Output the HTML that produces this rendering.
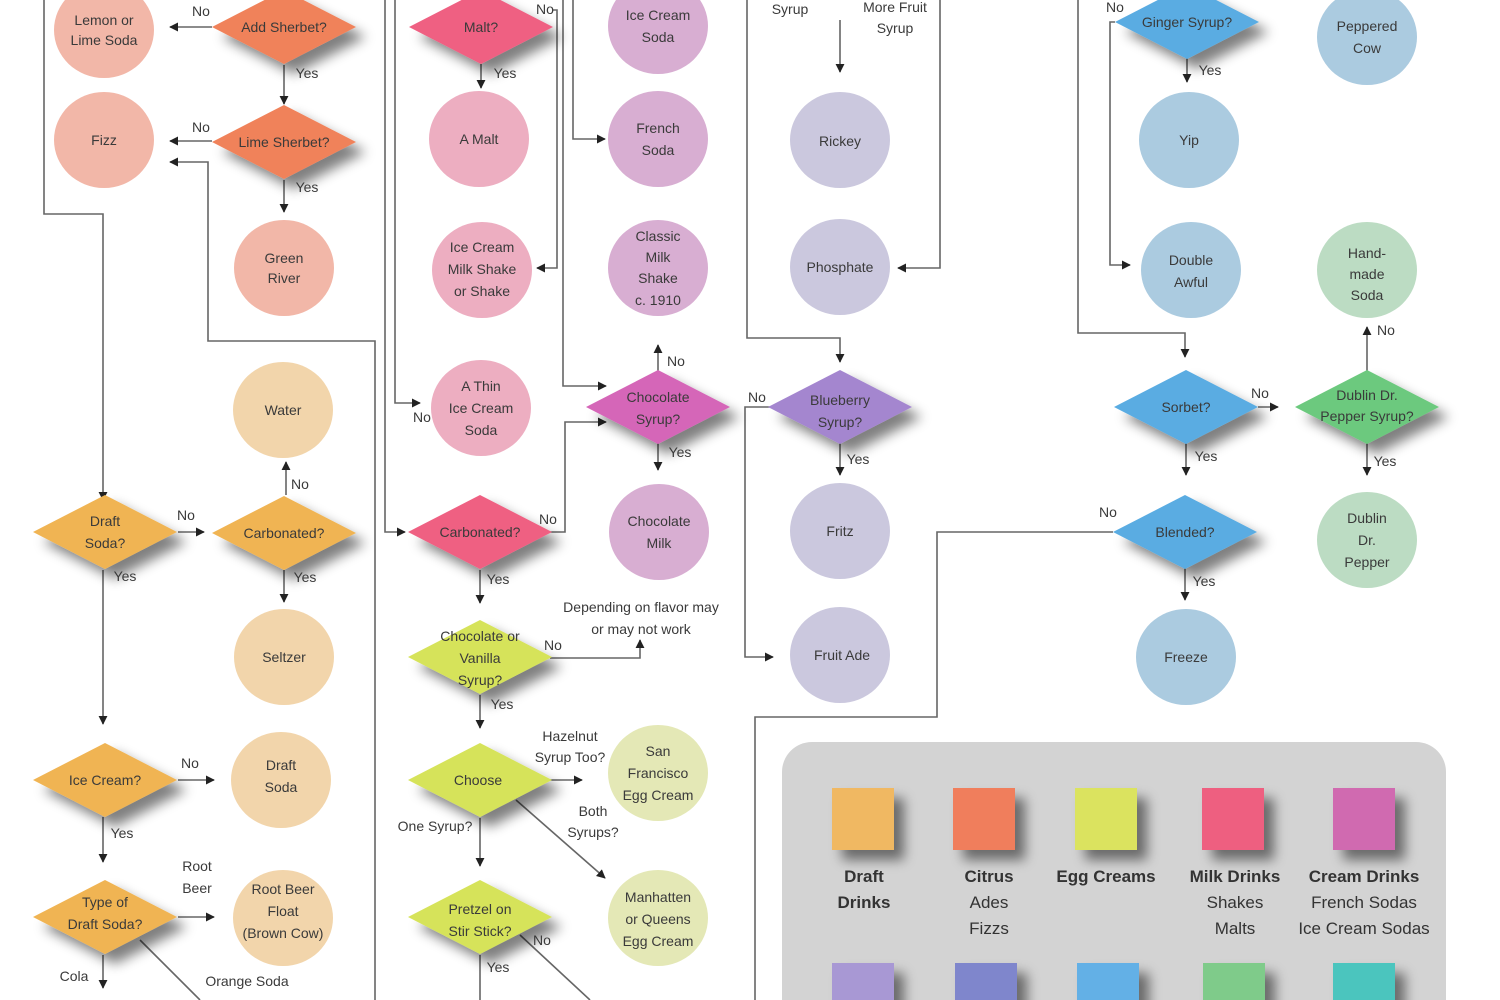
<!DOCTYPE html>
<html><head><meta charset="utf-8"><style>
html,body{margin:0;padding:0;background:#fff;}
svg{display:block;}
text{font-family:"Liberation Sans Narrow","Liberation Sans",sans-serif;font-size:14px;fill:#3a3a3a;text-anchor:middle;}
.l{font-size:13px;}
.g text{font-size:17px;fill:#333;}
</style></head><body>
<svg width="1500" height="1000" viewBox="0 0 1500 1000" xmlns="http://www.w3.org/2000/svg">
<defs>
<filter id="sh" x="-30%" y="-30%" width="170%" height="180%"><feGaussianBlur in="SourceAlpha" stdDeviation="6"/><feOffset dx="10" dy="10"/><feComponentTransfer><feFuncA type="linear" slope="0.5"/></feComponentTransfer><feMerge><feMergeNode/><feMergeNode in="SourceGraphic"/></feMerge></filter>
<marker id="a" viewBox="0 0 10 10" refX="9" refY="5" markerWidth="9" markerHeight="9" orient="auto" markerUnits="userSpaceOnUse"><path d="M0,0 L10,5 L0,10 z" fill="#222"/></marker>
</defs>

<g fill="none" stroke="#666" stroke-width="1.6">
<polyline points="44,0 44,214 103,214 103,500" marker-end="url(#a)"/>
<polyline points="212,27 170,27" marker-end="url(#a)"/>
<polyline points="284,65 284,104" marker-end="url(#a)"/>
<polyline points="212,141 170,141" marker-end="url(#a)"/>
<polyline points="284,180 284,212" marker-end="url(#a)"/>
<polyline points="375,1000 375,341 208,341 208,162 170,162" marker-end="url(#a)"/>
<polyline points="395,0 395,403 420,403" marker-end="url(#a)"/>
<polyline points="385,0 385,532 405,532" marker-end="url(#a)"/>
<polyline points="481,64 481,88" marker-end="url(#a)"/>
<polyline points="553,10 557,10 557,268 537,268" marker-end="url(#a)"/>
<polyline points="573,0 573,139 605,139" marker-end="url(#a)"/>
<polyline points="563,0 563,386 606,386" marker-end="url(#a)"/>
<polyline points="550,532 565,532 565,422 606,422" marker-end="url(#a)"/>
<polyline points="658,375 658,345" marker-end="url(#a)"/>
<polyline points="658,443 658,470" marker-end="url(#a)"/>
<polyline points="286,495 286,462" marker-end="url(#a)"/>
<polyline points="178,532 204,532" marker-end="url(#a)"/>
<polyline points="284,570 284,602" marker-end="url(#a)"/>
<polyline points="103,570 103,724" marker-end="url(#a)"/>
<polyline points="178,780 214,780" marker-end="url(#a)"/>
<polyline points="103,817 103,862" marker-end="url(#a)"/>
<polyline points="178,917 214,917" marker-end="url(#a)"/>
<polyline points="103,955 103,988" marker-end="url(#a)"/>
<polyline points="140,940 200,1000"/>
<polyline points="480,570 480,603" marker-end="url(#a)"/>
<polyline points="550,658 640,658 640,640" marker-end="url(#a)"/>
<polyline points="480,695 480,728" marker-end="url(#a)"/>
<polyline points="550,780 582,780" marker-end="url(#a)"/>
<polyline points="516,800 605,878" marker-end="url(#a)"/>
<polyline points="480,818 480,866" marker-end="url(#a)"/>
<polyline points="480,955 480,1000"/>
<polyline points="520,935 590,1000"/>
<polyline points="747,0 747,338 840,338 840,362" marker-end="url(#a)"/>
<polyline points="770,407 745,407 745,657 773,657" marker-end="url(#a)"/>
<polyline points="840,443 840,475" marker-end="url(#a)"/>
<polyline points="840,20 840,72" marker-end="url(#a)"/>
<polyline points="940,0 940,268 898,268" marker-end="url(#a)"/>
<polyline points="1078,0 1078,333 1185,333 1185,357" marker-end="url(#a)"/>
<polyline points="1115,22 1110,22 1110,265 1130,265" marker-end="url(#a)"/>
<polyline points="1187,58 1187,82" marker-end="url(#a)"/>
<polyline points="1258,407 1278,407" marker-end="url(#a)"/>
<polyline points="1186,443 1186,475" marker-end="url(#a)"/>
<polyline points="1367,372 1367,327" marker-end="url(#a)"/>
<polyline points="1367,443 1367,475" marker-end="url(#a)"/>
<polyline points="1113,532 937,532 937,717 755,717 755,1000"/>
<polyline points="1185,568 1185,600" marker-end="url(#a)"/>
</g>

<g>
<ellipse cx="104" cy="30" rx="50" ry="48" fill="#f2b7a8"/>
<ellipse cx="104" cy="140" rx="50" ry="48" fill="#f2b7a8"/>
<ellipse cx="284" cy="268" rx="50" ry="48" fill="#f2b7a8"/>
<ellipse cx="283" cy="410" rx="50" ry="48" fill="#f2d5ab"/>
<ellipse cx="284" cy="657" rx="50" ry="48" fill="#f2d5ab"/>
<ellipse cx="281" cy="780" rx="50" ry="48" fill="#f2d5ab"/>
<ellipse cx="283" cy="918" rx="50" ry="48" fill="#f2d5ab"/>
<ellipse cx="479" cy="139" rx="50" ry="48" fill="#edaec1"/>
<ellipse cx="482" cy="270" rx="50" ry="48" fill="#edaec1"/>
<ellipse cx="481" cy="408" rx="50" ry="48" fill="#edaec1"/>
<ellipse cx="658" cy="26" rx="50" ry="48" fill="#d8aed2"/>
<ellipse cx="658" cy="139" rx="50" ry="48" fill="#d8aed2"/>
<ellipse cx="658" cy="268" rx="50" ry="48" fill="#d8aed2"/>
<ellipse cx="659" cy="532" rx="50" ry="48" fill="#d8aed2"/>
<ellipse cx="658" cy="773" rx="50" ry="48" fill="#e4e8b6"/>
<ellipse cx="658" cy="918" rx="50" ry="48" fill="#e4e8b6"/>
<ellipse cx="840" cy="140" rx="50" ry="48" fill="#cbc8de"/>
<ellipse cx="840" cy="267" rx="50" ry="48" fill="#cbc8de"/>
<ellipse cx="840" cy="531" rx="50" ry="48" fill="#cbc8de"/>
<ellipse cx="840" cy="655" rx="50" ry="48" fill="#cbc8de"/>
<ellipse cx="1189" cy="140" rx="50" ry="48" fill="#abcbe0"/>
<ellipse cx="1191" cy="270" rx="50" ry="48" fill="#abcbe0"/>
<ellipse cx="1186" cy="657" rx="50" ry="48" fill="#abcbe0"/>
<ellipse cx="1367" cy="37" rx="50" ry="48" fill="#abcbe0"/>
<ellipse cx="1367" cy="270" rx="50" ry="48" fill="#bcdcc3"/>
<ellipse cx="1367" cy="540" rx="50" ry="48" fill="#bcdcc3"/>
</g>
<g>
<text x="104" y="25">Lemon or</text><text x="104" y="45">Lime Soda</text>
<text x="104" y="145">Fizz</text>
<text x="284" y="263">Green</text><text x="284" y="283">River</text>
<text x="283" y="415">Water</text>
<text x="284" y="662">Seltzer</text>
<text x="281" y="770">Draft</text><text x="281" y="792">Soda</text>
<text x="283" y="894">Root Beer</text><text x="283" y="916">Float</text><text x="283" y="938">(Brown Cow)</text>
<text x="479" y="144">A Malt</text>
<text x="482" y="252">Ice Cream</text><text x="482" y="274">Milk Shake</text><text x="482" y="296">or Shake</text>
<text x="481" y="391">A Thin</text><text x="481" y="413">Ice Cream</text><text x="481" y="435">Soda</text>
<text x="658" y="20">Ice Cream</text><text x="658" y="42">Soda</text>
<text x="658" y="133">French</text><text x="658" y="155">Soda</text>
<text x="658" y="241">Classic</text><text x="658" y="262">Milk</text><text x="658" y="283">Shake</text><text x="658" y="305">c. 1910</text>
<text x="659" y="526">Chocolate</text><text x="659" y="548">Milk</text>
<text x="658" y="756">San</text><text x="658" y="778">Francisco</text><text x="658" y="800">Egg Cream</text>
<text x="658" y="902">Manhatten</text><text x="658" y="924">or Queens</text><text x="658" y="946">Egg Cream</text>
<text x="840" y="146">Rickey</text>
<text x="840" y="272">Phosphate</text>
<text x="840" y="536">Fritz</text>
<text x="842" y="660">Fruit Ade</text>
<text x="1189" y="145">Yip</text>
<text x="1191" y="265">Double</text><text x="1191" y="287">Awful</text>
<text x="1186" y="662">Freeze</text>
<text x="1367" y="31">Peppered</text><text x="1367" y="53">Cow</text>
<text x="1367" y="258">Hand-</text><text x="1367" y="279">made</text><text x="1367" y="300">Soda</text>
<text x="1367" y="523">Dublin</text><text x="1367" y="545">Dr.</text><text x="1367" y="567">Pepper</text>
</g>

<g filter="url(#sh)">
<polygon points="212,27 284,-10 356,27 284,64" fill="#f0825a"/>
<polygon points="212,142 284,105 356,142 284,179" fill="#f0825a"/>
<polygon points="409,27 481,-10 553,27 481,64" fill="#ef6082"/>
<polygon points="586,407 658,370 730,407 658,444" fill="#d566b8"/>
<polygon points="768,407 840,370 912,407 840,444" fill="#a486cf"/>
<polygon points="1115,22 1187,-15 1259,22 1187,59" fill="#5aace2"/>
<polygon points="1114,407 1186,370 1258,407 1186,444" fill="#5aace2"/>
<polygon points="1295,407 1367,370 1439,407 1367,444" fill="#6cc97e"/>
<polygon points="1113,532 1185,495 1257,532 1185,569" fill="#5aace2"/>
<polygon points="33,532 105,495 177,532 105,569" fill="#f0b453"/>
<polygon points="212,533 284,496 356,533 284,570" fill="#f0b453"/>
<polygon points="408,532 480,495 552,532 480,569" fill="#ef6082"/>
<polygon points="408,657 480,620 552,657 480,694" fill="#d6e35a"/>
<polygon points="33,780 105,743 177,780 105,817" fill="#f0b453"/>
<polygon points="408,780 480,743 552,780 480,817" fill="#d6e35a"/>
<polygon points="33,917 105,880 177,917 105,954" fill="#f0b453"/>
<polygon points="408,917 480,880 552,917 480,954" fill="#d6e35a"/>
</g>
<g>
<text x="284" y="32">Add Sherbet?</text>
<text x="284" y="147">Lime Sherbet?</text>
<text x="481" y="32">Malt?</text>
<text x="658" y="402">Chocolate</text><text x="658" y="424">Syrup?</text>
<text x="840" y="405">Blueberry</text><text x="840" y="427">Syrup?</text>
<text x="1187" y="27">Ginger Syrup?</text>
<text x="1186" y="412">Sorbet?</text>
<text x="1367" y="400">Dublin Dr.</text><text x="1367" y="421">Pepper Syrup?</text>
<text x="1185" y="537">Blended?</text>
<text x="105" y="526">Draft</text><text x="105" y="548">Soda?</text>
<text x="284" y="538">Carbonated?</text>
<text x="480" y="537">Carbonated?</text>
<text x="480" y="641">Chocolate or</text><text x="480" y="663">Vanilla</text><text x="480" y="685">Syrup?</text>
<text x="105" y="785">Ice Cream?</text>
<text x="478" y="785">Choose</text>
<text x="105" y="907">Type of</text><text x="105" y="929">Draft Soda?</text>
<text x="480" y="914">Pretzel on</text><text x="480" y="936">Stir Stick?</text>
</g>

<g class="l">
<text x="201" y="16">No</text><text x="307" y="78">Yes</text>
<text x="201" y="132">No</text><text x="307" y="192">Yes</text>
<text x="545" y="14">No</text><text x="505" y="78">Yes</text>
<text x="676" y="366">No</text><text x="680" y="457">Yes</text>
<text x="422" y="422">No</text>
<text x="757" y="402">No</text><text x="858" y="464">Yes</text>
<text x="790" y="14">Syrup</text>
<text x="895" y="12">More Fruit</text><text x="895" y="33">Syrup</text>
<text x="1115" y="12">No</text><text x="1210" y="75">Yes</text>
<text x="1260" y="398">No</text><text x="1206" y="461">Yes</text>
<text x="1386" y="335">No</text><text x="1385" y="466">Yes</text>
<text x="1108" y="517">No</text><text x="1204" y="586">Yes</text>
<text x="186" y="520">No</text><text x="125" y="581">Yes</text>
<text x="300" y="489">No</text><text x="305" y="582">Yes</text>
<text x="548" y="524">No</text><text x="498" y="584">Yes</text>
<text x="553" y="650">No</text><text x="502" y="709">Yes</text>
<text x="641" y="612">Depending on flavor may</text><text x="641" y="634">or may not work</text>
<text x="570" y="741">Hazelnut</text><text x="570" y="762">Syrup Too?</text>
<text x="593" y="816">Both</text><text x="593" y="837">Syrups?</text>
<text x="435" y="831">One Syrup?</text>
<text x="542" y="945">No</text><text x="498" y="972">Yes</text>
<text x="190" y="768">No</text><text x="122" y="838">Yes</text>
<text x="197" y="871">Root</text><text x="197" y="893">Beer</text>
<text x="74" y="981">Cola</text>
<text x="247" y="986">Orange Soda</text>
</g>

<rect x="782" y="742" width="664" height="290" rx="30" fill="#d3d3d3"/>
<g filter="url(#sh)">
<rect x="832" y="788" width="62" height="62" fill="#f0b862"/>
<rect x="953" y="788" width="62" height="62" fill="#f07e5c"/>
<rect x="1075" y="788" width="62" height="62" fill="#dbe35e"/>
<rect x="1202" y="788" width="62" height="62" fill="#ee5f80"/>
<rect x="1333" y="788" width="62" height="62" fill="#d06bb0"/>
<rect x="832" y="963" width="62" height="62" fill="#a898d4"/>
<rect x="955" y="963" width="62" height="62" fill="#7f86cc"/>
<rect x="1077" y="963" width="62" height="62" fill="#64b0e6"/>
<rect x="1203" y="963" width="62" height="62" fill="#7fcb8a"/>
<rect x="1333" y="963" width="62" height="62" fill="#4cc5be"/>
</g>
<g class="g">
<text x="864" y="882" font-weight="bold">Draft</text><text x="864" y="908" font-weight="bold">Drinks</text>
<text x="989" y="882" font-weight="bold">Citrus</text><text x="989" y="908">Ades</text><text x="989" y="934">Fizzs</text>
<text x="1106" y="882" font-weight="bold">Egg Creams</text>
<text x="1235" y="882" font-weight="bold">Milk Drinks</text><text x="1235" y="908">Shakes</text><text x="1235" y="934">Malts</text>
<text x="1364" y="882" font-weight="bold">Cream Drinks</text><text x="1364" y="908">French Sodas</text><text x="1364" y="934">Ice Cream Sodas</text>
</g>
</svg>
</body></html>
